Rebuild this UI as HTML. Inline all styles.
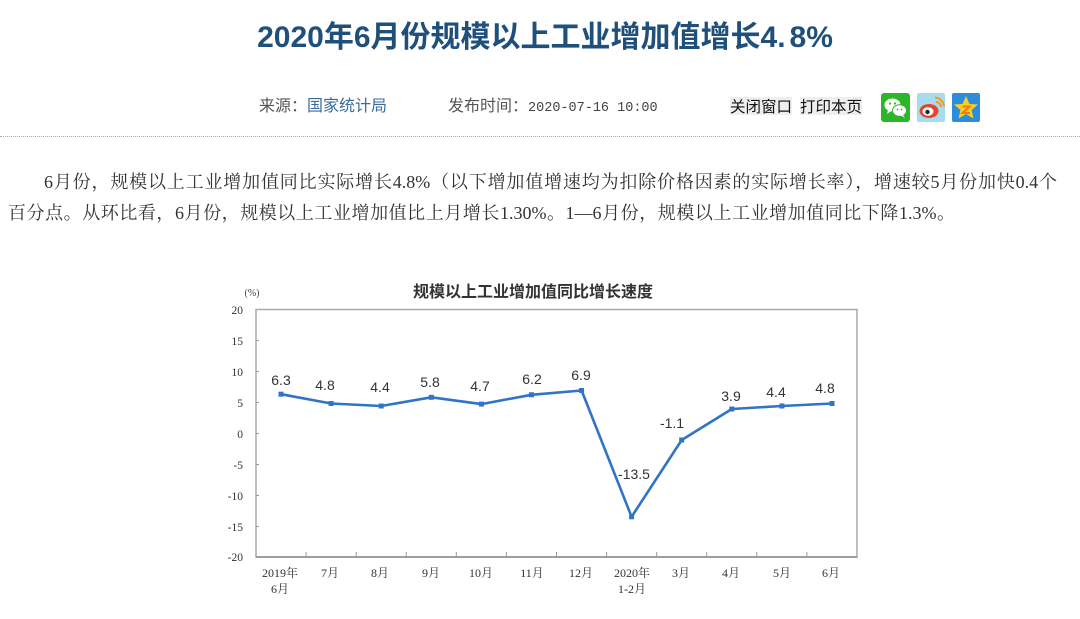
<!DOCTYPE html>
<html><head><meta charset="utf-8">
<style>
html,body{margin:0;padding:0;background:#fff;}
body{width:1080px;height:619px;position:relative;overflow:hidden;font-family:"Liberation Sans","Noto Sans CJK SC",sans-serif;}
.abs{position:absolute;white-space:nowrap;}
.title{left:0;width:1090px;top:17px;text-align:center;font-size:30px;font-weight:bold;color:#1f4f7b;line-height:42px;}
.meta{top:94px;font-size:16px;line-height:20px;color:#555;font-family:"Noto Sans CJK SC",sans-serif;}
.mono{font-family:"Liberation Mono",monospace;font-size:13.5px;color:#444;}
.btn{top:97px;font-size:15.5px;line-height:18px;color:#111;background:#eeeeee;font-family:"Noto Sans CJK SC",sans-serif;}
.dots{left:0;top:136px;width:1080px;height:0;border-top:1.5px dotted #a8a8a8;}
.para{font-family:"Liberation Serif","Noto Serif CJK SC",serif;font-size:18px;color:#333;line-height:24px;text-align:justify;text-align-last:justify;}
</style></head>
<body>
<div class="abs title">2020年6月份规模以上工业增加值增长4.<span style="margin-left:4px">8%</span></div>

<div class="abs meta" style="left:259px;">来源：<span style="color:#3a6b9c">国家统计局</span></div>
<div class="abs meta" style="left:448px;">发布时间：<span class="mono">2020-07-16 10:00</span></div>

<div class="abs btn" style="left:730px;">关闭窗口</div>
<div class="abs btn" style="left:800px;">打印本页</div>

<svg class="abs" style="left:881px;top:93px" width="100" height="30" viewBox="0 0 100 30">
  <rect x="0" y="0" width="29" height="29" rx="3" fill="#2fb52a"/>
  <ellipse cx="11.5" cy="12" rx="8" ry="6.5" fill="#fff"/>
  <path d="M7 17 L6 21 L10 18 Z" fill="#fff"/>
  <ellipse cx="18.5" cy="17.5" rx="7" ry="5.8" fill="#fff" stroke="#2fb52a" stroke-width="1"/>
  <path d="M22 22 L24 25 L20 22.5 Z" fill="#fff"/>
  <circle cx="9" cy="10.5" r="1.1" fill="#2fb52a"/><circle cx="14" cy="10.5" r="1.1" fill="#2fb52a"/>
  <circle cx="16.5" cy="16.5" r="0.9" fill="#2fb52a"/><circle cx="20.5" cy="16.5" r="0.9" fill="#2fb52a"/>
  <rect x="36" y="0" width="28" height="29" rx="2" fill="#a5dcf0"/>
  <ellipse cx="48" cy="18" rx="9.5" ry="7" fill="#e8442c"/>
  <ellipse cx="47" cy="18.5" rx="5.5" ry="4.2" fill="#fff"/>
  <circle cx="46.5" cy="19" r="2.2" fill="#222"/>
  <path d="M55 9 A5 5 0 0 1 60 14" stroke="#f39a1c" stroke-width="2" fill="none"/>
  <path d="M54 4.5 A9.5 9.5 0 0 1 63 13.5" stroke="#f39a1c" stroke-width="2" fill="none"/>
  <rect x="71" y="0" width="28" height="29" rx="2" fill="#2b8ddc"/>
  <polygon points="85,3 88.5,11 97,11.5 90.5,17 92.5,25.5 85,21 77.5,25.5 79.5,17 73,11.5 81.5,11" fill="#ffcf1f"/>
  <path d="M81.5 13.5 H88.5 L81.5 20 H89" stroke="#f07a12" stroke-width="2" fill="none"/>
</svg>

<div class="abs dots"></div>

<div class="abs para" style="left:44px;top:170px;width:1013px;">6月份，规模以上工业增加值同比实际增长4.8%（以下增加值增速均为扣除价格因素的实际增长率），增速较5月份加快0.4个</div>
<div class="abs para" style="left:8px;top:201px;width:947px;">百分点。从环比看，6月份，规模以上工业增加值比上月增长1.30%。1—6月份，规模以上工业增加值同比下降1.3%。</div>

<svg class="abs" style="left:0;top:0" width="1080" height="619" viewBox="0 0 1080 619">
  <text x="533" y="297" text-anchor="middle" font-family="Liberation Sans, Noto Sans CJK SC, sans-serif" font-size="16" font-weight="bold" fill="#333">规模以上工业增加值同比增长速度</text>
  <text x="252" y="296" text-anchor="middle" font-family="Liberation Serif, serif" font-size="10" fill="#444">(%)</text>

  <rect x="256" y="309.5" width="601" height="247.5" fill="none" stroke="#a9a9a9" stroke-width="1.5"/>
  <line x1="256" y1="557" x2="857" y2="557" stroke="#8c8c8c" stroke-width="1.5"/>

  <g font-family="Liberation Serif, serif" font-size="11.5" fill="#333" text-anchor="end">
    <text x="243" y="314">20</text>
    <text x="243" y="345">15</text>
    <text x="243" y="376">10</text>
    <text x="243" y="407">5</text>
    <text x="243" y="438">0</text>
    <text x="243" y="469">-5</text>
    <text x="243" y="500">-10</text>
    <text x="243" y="531">-15</text>
    <text x="243" y="561">-20</text>
  </g>
  <g stroke="#999" stroke-width="1">
    <line x1="256" y1="340.5" x2="259" y2="340.5"/>
    <line x1="256" y1="371.5" x2="259" y2="371.5"/>
    <line x1="256" y1="402.5" x2="259" y2="402.5"/>
    <line x1="256" y1="433.5" x2="259" y2="433.5"/>
    <line x1="256" y1="464.5" x2="259" y2="464.5"/>
    <line x1="256" y1="495.5" x2="259" y2="495.5"/>
    <line x1="256" y1="526.5" x2="259" y2="526.5"/>
    <line x1="306.1" y1="557" x2="306.1" y2="552"/>
    <line x1="356.2" y1="557" x2="356.2" y2="552"/>
    <line x1="406.2" y1="557" x2="406.2" y2="552"/>
    <line x1="456.3" y1="557" x2="456.3" y2="552"/>
    <line x1="506.4" y1="557" x2="506.4" y2="552"/>
    <line x1="556.5" y1="557" x2="556.5" y2="552"/>
    <line x1="606.6" y1="557" x2="606.6" y2="552"/>
    <line x1="656.7" y1="557" x2="656.7" y2="552"/>
    <line x1="706.7" y1="557" x2="706.7" y2="552"/>
    <line x1="756.8" y1="557" x2="756.8" y2="552"/>
    <line x1="806.9" y1="557" x2="806.9" y2="552"/>
  </g>

  <g font-family="Liberation Serif, Noto Serif CJK SC, serif" font-size="12" fill="#333" text-anchor="middle">
    <text x="280" y="577">2019年</text>
    <text x="280" y="593">6月</text>
    <text x="330" y="577">7月</text>
    <text x="380" y="577">8月</text>
    <text x="431" y="577">9月</text>
    <text x="481" y="577">10月</text>
    <text x="532" y="577">11月</text>
    <text x="581" y="577">12月</text>
    <text x="632" y="577">2020年</text>
    <text x="632" y="593">1-2月</text>
    <text x="681" y="577">3月</text>
    <text x="731" y="577">4月</text>
    <text x="782" y="577">5月</text>
    <text x="831" y="577">6月</text>
  </g>

  <polyline fill="none" stroke="#2f74c6" stroke-width="2.6" stroke-linejoin="round"
    points="281,394.2 331.1,403.5 381.2,406 431.3,397.3 481.4,404.1 531.5,394.8 581.6,390.5 631.6,516.8 681.7,440 731.8,409 781.9,406 832,403.5"/>
  <g fill="#2f74c6">
    <rect x="278.5" y="391.7" width="5" height="5"/>
    <rect x="328.6" y="401" width="5" height="5"/>
    <rect x="378.7" y="403.5" width="5" height="5"/>
    <rect x="428.8" y="394.8" width="5" height="5"/>
    <rect x="478.9" y="401.6" width="5" height="5"/>
    <rect x="529" y="392.3" width="5" height="5"/>
    <rect x="579.1" y="388" width="5" height="5"/>
    <rect x="629.1" y="514.3" width="5" height="5"/>
    <rect x="679.2" y="437.5" width="5" height="5"/>
    <rect x="729.3" y="406.5" width="5" height="5"/>
    <rect x="779.4" y="403.5" width="5" height="5"/>
    <rect x="829.5" y="401" width="5" height="5"/>
  </g>

  <g font-family="Liberation Sans, sans-serif" font-size="14" fill="#333" text-anchor="middle">
    <text x="281" y="385">6.3</text>
    <text x="325" y="390">4.8</text>
    <text x="380" y="392">4.4</text>
    <text x="430" y="387">5.8</text>
    <text x="480" y="391">4.7</text>
    <text x="532" y="384">6.2</text>
    <text x="581" y="380">6.9</text>
    <text x="634" y="479">-13.5</text>
    <text x="672" y="428">-1.1</text>
    <text x="731" y="401">3.9</text>
    <text x="776" y="397">4.4</text>
    <text x="825" y="393">4.8</text>
  </g>
</svg>
</body></html>
